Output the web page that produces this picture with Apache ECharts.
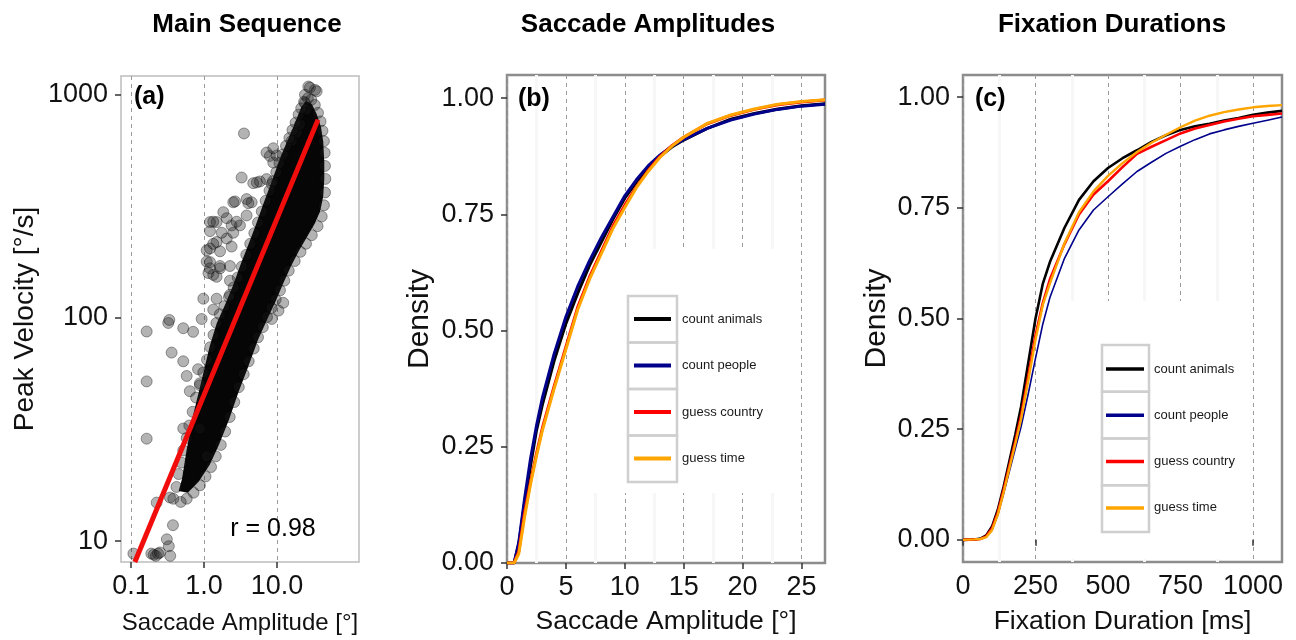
<!DOCTYPE html>
<html><head><meta charset="utf-8">
<script src="https://cdn.jsdelivr.net/npm/echarts@6/dist/echarts.min.js"></script>
<style>html,body{margin:0;padding:0;background:#fff}#chart{width:1296px;height:640px}</style>
</head><body><div id="chart"></div>
<script>
const FONT = '"Liberation Sans", Arial, Helvetica, sans-serif';

// ---------- Panel (a): Main Sequence (log-log) ----------
const aScatter = [
  [0.164,87],[0.164,52],[0.164,28.8],[0.108,8.8],[0.19,8.8],[0.205,8.7],[0.22,8.6],[0.235,8.8],[0.25,8.9],
  [0.31,10.2],[0.33,9.5],[0.345,8.6],[0.376,11.8],[0.225,14.9],[0.342,15.7],[0.324,95],[0.335,98],[0.52,90],
  [0.71,86.7],[0.93,99],[0.36,70],[0.52,64],[0.58,55],[0.83,59],[0.88,51],[0.64,47],[0.52,32],[0.88,32],[1.09,24],
  [3.53,671],[3.28,426],[5.3,405],[7.2,419],[8.5,398],[2.52,330],[3.84,341],[4.5,330],[1.84,298],[1.49,269],
  [1.21,269],[2.39,260],[3.11,260],[3.84,288],[1.21,205],[1.09,201],[1.49,219],[2.05,227],[1.09,179],[1.21,167],
  [1.34,156],[1.66,167],[1.34,270],[2.05,280],[2.8,270],[1.75,241],[2.52,241],[1.21,245],[1.34,215],[1.66,199],
  [2.39,209],[1.21,178],[1.66,171],[2.27,171],[1.15,159],[1.49,153],[2.27,147],[0.98,122],[1.49,122],[2.27,127],
  [1.34,109],[4.05,327],[2.66,333],[4.73,402],[5.85,409],[8.0,532],[8.9,497],[7.2,551],[15.9,621],[18.6,676],
  [20.7,736],[26.9,1089],[33.2,1052],[24.2,1000],[24.2,918],[25.5,858],[28.3,1077],[35,1037],[9.9,535],[8.9,576],
  [12.2,117],[8.5,99],[10.5,108],
  [0.38,15.5],[0.42,17.5],[0.45,20],[0.49,22.5],[0.52,25.5],[0.58,29],[0.63,33],[0.70,38],[0.78,44],[0.88,50],
  [0.98,57],[1.1,65],[1.22,74],[1.35,84],[1.48,95],[1.65,104],[1.9,113],[2.2,124],[2.55,137],[2.9,152],
  [3.3,170],[3.8,192],[4.3,215],[4.9,240],[5.5,268],[6.2,300],[7.0,335],[7.9,372],[8.8,410],[9.8,450],
  [10.8,495],[12,540],[13.3,590],[14.8,640],[16.3,695],[18,750],[19.8,815],[21.5,870],[23.5,930],[26.5,965],[29.5,950],
  [33,900],[36.5,830],[39.5,760],[42,690],[44,620],[45,550],[45.5,480],[46,420],[45.5,365],[44,320],
  [41,285],[36,258],[30,235],[25,215],[21,198],[17.5,180],[14.5,163],[12.6,147],[11,133],[9.6,121],
  [8.4,111],[7.3,101],[6.4,91],[5.5,82],[4.8,73],[4.1,64],[3.5,56],[3.0,49],[2.6,42],[2.25,36],
  [1.95,31],[1.7,27],[1.45,24],[1.25,21.5],[1.05,19.5],[0.88,17.8],[0.72,16.5],[0.58,15.5],[0.48,15]
];
// outline of the region where the points overlap into solid black
const aDenseCore = [
  [0.45,16.8],[0.50,19],[0.57,25],[0.70,36],[0.92,52],[1.2,75],[1.5,95],[1.95,115],[2.5,140],[3.2,175],
  [4.1,215],[5.1,260],[6.4,320],[7.8,380],[9.4,450],[11.3,530],[13.8,620],[16.3,700],[18.8,790],[21.5,880],[25,940],
  [30,910],[35,820],[40,720],[43,620],[44.5,500],[44.5,420],[43,350],[39,300],[33,265],[26,232],[20,200],[15.5,170],
  [12.2,143],[9.6,119],[7.5,100],[5.5,80],[4.0,60],[3.0,47],[2.2,35],[1.6,27],[1.2,22],[0.85,18.5],[0.6,16.5]
];
const aFitLine = [[0.113, 8.07], [36.5, 774]];
const aXTicks = [0.1, 1, 10];
const aXTickLabels = ['0.1', '1.0', '10.0'];
const aYTicks = [10, 100, 1000];
const aYTickLabels = ['10', '100', '1000'];

// ---------- shared ----------
const seriesNames = ['count animals', 'count people', 'guess country', 'guess time'];
const seriesColors = ['#000000', '#00008B', '#FF0000', '#FFA500'];
const densityTicks = [0, 0.25, 0.5, 0.75, 1];

// ---------- Panel (b): Saccade Amplitudes (CDF) ----------
const bX = [0, 0.6, 1, 1.5, 2, 2.5, 3, 4, 5, 6, 7, 8, 9, 10, 11, 12, 13, 14, 15, 17, 19, 21, 23, 25, 27];
const bCountAnimals = [0, 0, 0.04, 0.13, 0.21, 0.285, 0.34, 0.435, 0.515, 0.58, 0.64, 0.69, 0.74, 0.785, 0.82, 0.85, 0.875, 0.895, 0.91, 0.935, 0.955, 0.967, 0.977, 0.984, 0.988];
const bCountPeople = [0, 0, 0.045, 0.14, 0.225, 0.295, 0.355, 0.45, 0.53, 0.595, 0.65, 0.70, 0.745, 0.79, 0.825, 0.855, 0.878, 0.897, 0.911, 0.935, 0.953, 0.966, 0.976, 0.983, 0.987];
const bGuessCountry = [0, 0, 0.025, 0.11, 0.175, 0.235, 0.29, 0.38, 0.465, 0.55, 0.615, 0.67, 0.725, 0.77, 0.81, 0.845, 0.875, 0.898, 0.916, 0.945, 0.963, 0.976, 0.986, 0.992, 0.996];
const bGuessTime = [0, 0, 0.02, 0.10, 0.17, 0.23, 0.285, 0.375, 0.46, 0.545, 0.61, 0.665, 0.72, 0.765, 0.808, 0.843, 0.873, 0.897, 0.916, 0.946, 0.964, 0.977, 0.987, 0.993, 0.997];
const bXTicks = [0, 5, 10, 15, 20, 25];

// ---------- Panel (c): Fixation Durations (CDF) ----------
const cX = [0, 40, 60, 80, 100, 120, 140, 160, 180, 200, 225, 250, 275, 300, 350, 400, 450, 500, 550, 600, 650, 700, 750, 800, 850, 900, 950, 1000, 1050, 1100];
const cCountAnimals = [0, 0.001, 0.003, 0.01, 0.03, 0.068, 0.12, 0.178, 0.237, 0.30, 0.40, 0.50, 0.578, 0.628, 0.705, 0.768, 0.81, 0.84, 0.862, 0.88, 0.899, 0.914, 0.926, 0.934, 0.94, 0.947, 0.953, 0.96, 0.965, 0.969];
const cCountPeople = [0, 0.001, 0.002, 0.007, 0.022, 0.056, 0.104, 0.155, 0.205, 0.255, 0.33, 0.41, 0.487, 0.548, 0.636, 0.70, 0.745, 0.775, 0.804, 0.832, 0.853, 0.873, 0.889, 0.904, 0.917, 0.926, 0.934, 0.941, 0.948, 0.955];
const cGuessCountry = [0, 0.001, 0.002, 0.008, 0.026, 0.062, 0.113, 0.168, 0.222, 0.28, 0.37, 0.462, 0.535, 0.589, 0.668, 0.735, 0.78, 0.81, 0.842, 0.872, 0.888, 0.903, 0.918, 0.929, 0.937, 0.945, 0.951, 0.957, 0.96, 0.963];
const cGuessTime = [0, 0.001, 0.002, 0.006, 0.022, 0.057, 0.107, 0.162, 0.216, 0.272, 0.36, 0.452, 0.53, 0.58, 0.67, 0.74, 0.787, 0.822, 0.851, 0.876, 0.897, 0.915, 0.932, 0.947, 0.958, 0.966, 0.972, 0.977, 0.98, 0.982];
const cXTicks = [0, 250, 500, 750, 1000];

// ---------- helpers ----------
const zip = (xs, ys) => xs.map((x, i) => [x, ys[i]]);
const logLabel = (ticks, labels) => v => {
  for (let i = 0; i < ticks.length; i++) {
    if (Math.abs(Math.log10(v) - Math.log10(ticks[i])) < 0.01) return labels[i];
  }
  return '';
};
const tickStyle = { show: true, length: 6, lineStyle: { color: '#333', width: 1.5 } };
const labelStyle = { fontSize: 27, color: '#111', fontFamily: FONT };
const nameA = { fontSize: 24, color: '#111', fontFamily: FONT };
const nameAY = { fontSize: 28, color: '#111', fontFamily: FONT };
const nameBC = { fontSize: 26.5, color: '#111', fontFamily: FONT };
const nameBCY = { fontSize: 30, color: '#111', fontFamily: FONT };
const dashed = { show: true, lineStyle: { type: [4, 4], color: '#9a9a9a', width: 1 } };
const minorLines = { show: true, lineStyle: { color: '#f7f7f7', width: 3 } };

const bData = [bCountAnimals, bCountPeople, bGuessCountry, bGuessTime];
const cData = [cCountAnimals, cCountPeople, cGuessCountry, cGuessTime];
const bWidths = [3, 3, 3, 3];
const cWidths = [2.6, 1.6, 2.6, 2.4];

const series = [
  {
    type: 'custom', xAxisIndex: 0, yAxisIndex: 0, data: aDenseCore, silent: true, z: 2,
    renderItem: function (params, api) {
      if (params.dataIndex !== 0) return null;
      return { type: 'polygon', shape: { points: aDenseCore.map(p => api.coord(p)) }, style: { fill: '#060606' } };
    }
  },
  {
    type: 'scatter', xAxisIndex: 0, yAxisIndex: 0, data: aScatter, symbolSize: 11, z: 3,
    itemStyle: { color: 'rgba(30,30,30,0.42)', borderColor: 'rgba(0,0,0,0.45)', borderWidth: 1 }
  },
  {
    type: 'line', xAxisIndex: 0, yAxisIndex: 0, data: aFitLine, showSymbol: false, z: 5,
    lineStyle: { color: '#f20d0d', width: 5 }
  }
];
seriesNames.forEach((n, i) => {
  series.push({
    name: n, type: 'line', xAxisIndex: 1, yAxisIndex: 1, data: zip(bX, bData[i]),
    showSymbol: false, smooth: false, color: seriesColors[i], z: 3 + i,
    lineStyle: { color: seriesColors[i], width: bWidths[i] }
  });
});
seriesNames.forEach((n, i) => {
  series.push({
    name: n, type: 'line', xAxisIndex: 2, yAxisIndex: 2, data: zip(cX, cData[i]),
    showSymbol: false, smooth: false, color: seriesColors[i], z: 3 + i,
    lineStyle: { color: seriesColors[i], width: cWidths[i] }
  });
});

function legendFrames(x, y0, w, h) {
  const out = [];
  for (let i = 0; i < 4; i++) {
    out.push({ type: 'rect', z: 10, silent: true, shape: { x: x, y: y0 + i * h, width: w, height: h },
      style: { fill: 'none', stroke: '#cfcfcf', lineWidth: 2.5 } });
  }
  return out;
}
function txt(x, y, s, size, weight, align) {
  return { type: 'text', x: x, y: y, z: 10, silent: true,
    style: { text: s, fontSize: size, fontWeight: weight, fontFamily: FONT, fill: '#000', align: align, verticalAlign: 'middle' } };
}

const option = {
  animation: false,
  backgroundColor: '#fff',
  grid: [
    { left: 121, top: 76, width: 238, height: 491, show: true, borderColor: '#bdbdbd', borderWidth: 1.5, backgroundColor: 'transparent' },
    { left: 507, top: 75, width: 318, height: 495, show: true, borderColor: '#8c8c8c', borderWidth: 2.5, backgroundColor: 'transparent' },
    { left: 963, top: 75, width: 319, height: 494, show: true, borderColor: '#8c8c8c', borderWidth: 2.5, backgroundColor: 'transparent' }
  ],
  xAxis: [
    { type: 'log', logBase: 10, gridIndex: 0, min: 0.073, max: 133,
      axisLine: { show: false },
      axisTick: Object.assign({ customValues: aXTicks }, tickStyle),
      axisLabel: Object.assign({ customValues: aXTicks, margin: 11, formatter: logLabel(aXTicks, aXTickLabels) }, labelStyle),
      splitLine: dashed,
      name: 'Saccade Amplitude [°]', nameLocation: 'middle', nameGap: 49, nameTextStyle: nameA },
    { type: 'value', gridIndex: 1, min: 0, max: 27, interval: 5,
      axisLine: { show: false },
      axisTick: Object.assign({ customValues: bXTicks }, tickStyle),
      axisLabel: Object.assign({ customValues: bXTicks, margin: 11, formatter: v => String(v) }, labelStyle),
      splitLine: dashed, minorTick: { show: false, splitNumber: 2 }, minorSplitLine: minorLines,
      name: 'Saccade Amplitude [°]', nameLocation: 'middle', nameGap: 45, nameTextStyle: nameBC },
    { type: 'value', gridIndex: 2, min: 0, max: 1100, interval: 250,
      axisLine: { show: false },
      axisTick: Object.assign({ customValues: cXTicks }, tickStyle),
      axisLabel: Object.assign({ customValues: cXTicks, margin: 11, formatter: v => String(v) }, labelStyle),
      splitLine: dashed, minorTick: { show: false, splitNumber: 2 }, minorSplitLine: minorLines,
      name: 'Fixation Duration [ms]', nameLocation: 'middle', nameGap: 46, nameTextStyle: nameBC }
  ],
  yAxis: [
    { type: 'log', logBase: 10, gridIndex: 0, min: 8.07, max: 1214,
      axisLine: { show: false },
      axisTick: Object.assign({ customValues: aYTicks }, tickStyle),
      axisLabel: Object.assign({ customValues: aYTicks, margin: 13, formatter: logLabel(aYTicks, aYTickLabels) }, labelStyle),
      splitLine: { show: false },
      name: 'Peak Velocity [°/s]', nameLocation: 'middle', nameGap: 82, nameTextStyle: nameAY },
    { type: 'value', gridIndex: 1, min: 0, max: 1.05,
      axisLine: { show: false },
      axisTick: Object.assign({ customValues: densityTicks }, tickStyle),
      axisLabel: Object.assign({ customValues: densityTicks, margin: 13, formatter: v => v.toFixed(2) }, labelStyle),
      splitLine: { show: false },
      name: 'Density', nameLocation: 'middle', nameGap: 72, nameTextStyle: nameBCY },
    { type: 'value', gridIndex: 2, min: -0.05, max: 1.05,
      axisLine: { show: false },
      axisTick: Object.assign({ customValues: densityTicks }, tickStyle),
      axisLabel: Object.assign({ customValues: densityTicks, margin: 13, formatter: v => v.toFixed(2) }, labelStyle),
      splitLine: { show: false },
      name: 'Density', nameLocation: 'middle', nameGap: 71, nameTextStyle: nameBCY }
  ],
  legend: [
    { data: seriesNames, orient: 'vertical', left: 634, top: 312, padding: 0, itemGap: 32.5,
      itemWidth: 37, itemHeight: 4, icon: 'rect', selectedMode: false,
      textStyle: { fontSize: 13, color: '#1a1a1a', fontFamily: FONT, lineHeight: 14, padding: [0, 0, 0, 6] } },
    { data: seriesNames, orient: 'vertical', left: 1106, top: 362, padding: 0, itemGap: 32.3,
      itemWidth: 38, itemHeight: 3.5, icon: 'rect', selectedMode: false,
      textStyle: { fontSize: 13, color: '#1a1a1a', fontFamily: FONT, lineHeight: 14, padding: [0, 0, 0, 5] } }
  ],
  graphic: [
    { type: 'rect', z: 1, silent: true, shape: { x: 580, y: 249, width: 203, height: 244 }, style: { fill: '#fff' } },
    { type: 'rect', z: 1, silent: true, shape: { x: 1060, y: 301, width: 185, height: 258 }, style: { fill: '#fff' } }
  ].concat(legendFrames(628, 296, 49, 46.5), legendFrames(1102, 345, 47, 46.75), [
    txt(247, 25, 'Main Sequence', 26, 'bold', 'center'),
    txt(648, 25, 'Saccade Amplitudes', 26, 'bold', 'center'),
    txt(1112, 25, 'Fixation Durations', 26, 'bold', 'center'),
    txt(134, 97, '(a)', 25, 'bold', 'left'),
    txt(518, 99, '(b)', 25, 'bold', 'left'),
    txt(975, 99, '(c)', 25, 'bold', 'left'),
    txt(273, 529, 'r = 0.98', 25, 'normal', 'center')
  ]),
  series: series
};

const chart = echarts.init(document.getElementById('chart'), null, { renderer: 'canvas' });
chart.setOption(option);
</script>
</body></html>
